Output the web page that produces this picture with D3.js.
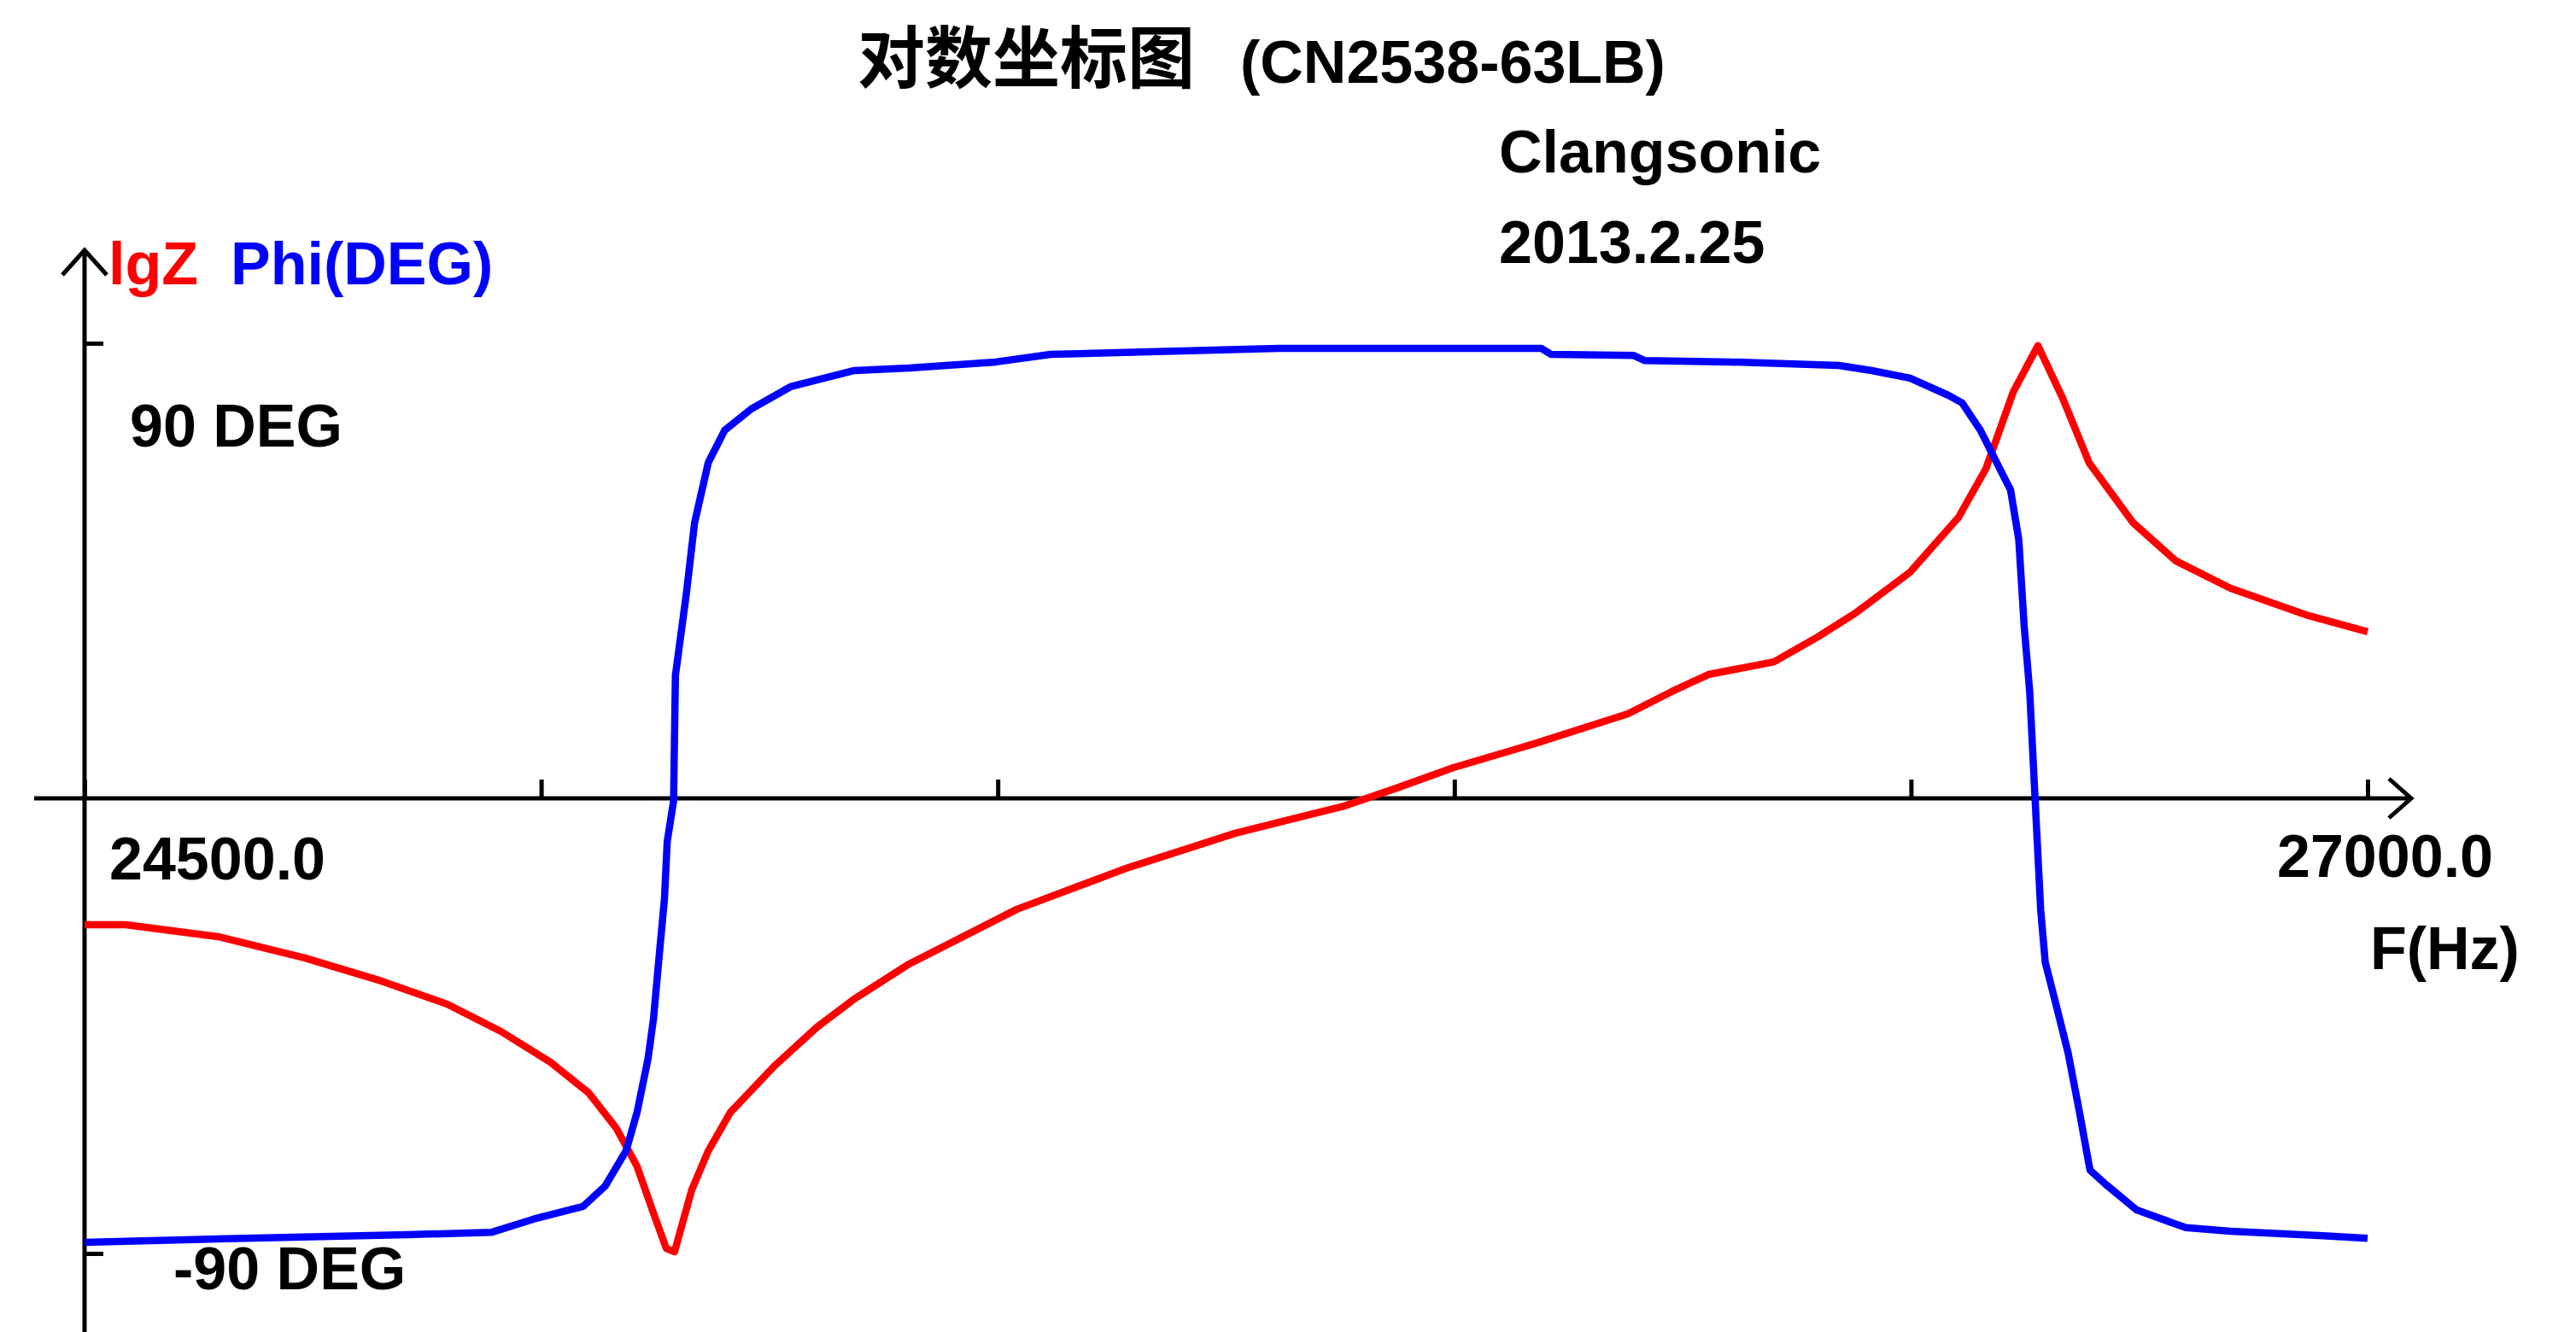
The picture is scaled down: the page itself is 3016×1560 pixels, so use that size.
<!DOCTYPE html>
<html>
<head>
<meta charset="utf-8">
<script src="https://cdn.jsdelivr.net/npm/d3@7"></script>
<style>
    body { margin: 0; background: #fff; }
    text { font-family: "Liberation Sans", Arial, sans-serif; font-weight: bold; }
</style>
</head>
<body>
<script>
// impedance / phase sweep, 24500 .. 27000 Hz
var X_TICKS = [24500, 25000, 25500, 26000, 26500, 27000];
var PHASE_TICKS = [-90, 90];

// blue: Phi(DEG)
var phiFreq = [24500, 24676, 24854, 24946, 24992, 25046, 25070, 25093, 25105, 25117,
               25123, 25129, 25135, 25138, 25145, 25147, 25159, 25168, 25183, 25201,
               25230, 25273, 25343, 25403, 25498, 25558, 25808, 26095, 26106, 26196,
               26208, 26302, 26421, 26457, 26499, 26541, 26556, 26576, 26600, 26609,
               26618, 26624, 26630, 26636, 26642, 26647, 26659, 26672, 26684, 26696,
               26713, 26747, 26801, 26850, 26951, 27000];
var phiDeg = [-87.8, -87.0, -86.3, -85.8, -83.2, -80.7, -76.7, -69.7, -62.1, -51.5,
              -43.6, -31.6, -19.9, -8.6, -0.5, 24.3, 40.5, 54.5, 66.4, 72.8,
              77.0, 81.4, 84.6, 85.1, 86.3, 87.8, 89.0, 89.0, 87.8, 87.6,
              86.6, 86.3, 85.6, 84.6, 83.1, 79.7, 78.2, 72.8, 64.2, 61.0,
              51.2, 33.9, 21.1, -0.5, -22.0, -32.4, -40.9, -50.3, -61.6, -73.5,
              -76.3, -81.4, -84.9, -85.6, -86.5, -87.0];

// red: lgZ
var lgzFreq = [24500, 24545, 24646, 24741, 24825, 24897, 24956, 25010, 25052, 25082,
               25105, 25123, 25137, 25146, 25165, 25183, 25207, 25255, 25302, 25343,
               25403, 25521, 25641, 25760, 25880, 25939, 25999, 26088, 26190, 26238,
               26278, 26350, 26398, 26439, 26499, 26552, 26582, 26612, 26639, 26666,
               26695, 26743, 26790, 26850, 26935, 27000];
var lgzVals = [2.087, 2.087, 2.048, 1.978, 1.902, 1.826, 1.736, 1.635, 1.534, 1.419,
               1.292, 1.138, 1.022, 1.011, 1.216, 1.343, 1.469, 1.621, 1.750, 1.843,
               1.958, 2.138, 2.273, 2.388, 2.478, 2.539, 2.604, 2.683, 2.781, 2.854,
               2.910, 2.952, 3.034, 3.112, 3.247, 3.427, 3.587, 3.840, 3.992, 3.820,
               3.607, 3.410, 3.284, 3.194, 3.104, 3.051];

var W = 3016;
var H = 1560;
var AXIS_W = 5;
var LINE_W = 8.5;

var x = d3.scaleLinear().domain([24500, 27000]).range([99, 2772]);
var yPhi = d3.scaleLinear().domain([-90, 90]).range([1468, 402]);
var yLgz = d3.scaleLinear().domain([1, 4]).range([1470, 402]);

var svg = d3.select("body")
    .append("svg")
    .attr("width", W)
    .attr("height", H);

// axes: x axis sits at phase 0
var x0 = x(24500);
var y0 = yPhi(0);

var axisG = svg.append("g")
    .attr("stroke", "#000")
    .attr("stroke-width", AXIS_W)
    .attr("fill", "none");

axisG.append("line")
    .attr("x1", 40).attr("y1", y0)
    .attr("x2", 2823).attr("y2", y0);
axisG.append("path")
    .attr("d", "M2797," + (y0 - 23) + "L2823," + y0 + "L2797," + (y0 + 23));

axisG.append("line")
    .attr("x1", x0).attr("y1", 293)
    .attr("x2", x0).attr("y2", H);
axisG.append("path")
    .attr("d", "M" + (x0 - 26) + ",322L" + x0 + ",293L" + (x0 + 26) + ",322");

// ticks up from the x axis
var xAxis = svg.append("g")
    .attr("transform", "translate(0," + y0 + ")")
    .call(d3.axisTop(x).tickValues(X_TICKS).tickSize(22).tickFormat(""));
xAxis.select(".domain").remove();
xAxis.selectAll("line").attr("stroke-width", AXIS_W);

var yAxis = svg.append("g")
    .attr("transform", "translate(" + x0 + ",0)")
    .call(d3.axisRight(yPhi).tickValues(PHASE_TICKS).tickSize(22).tickFormat(""));
yAxis.select(".domain").remove();
yAxis.selectAll("line").attr("stroke-width", AXIS_W);

// curves
var lgzLine = d3.line()
    .x(function(d, i) { return x(lgzFreq[i]); })
    .y(function(d) { return yLgz(d); });
var phiLine = d3.line()
    .x(function(d, i) { return x(phiFreq[i]); })
    .y(function(d) { return yPhi(d); });

svg.append("path")
    .datum(lgzVals)
    .attr("d", lgzLine)
    .attr("fill", "none")
    .attr("stroke", "#f00")
    .attr("stroke-width", LINE_W)
    .attr("stroke-linejoin", "round");

svg.append("path")
    .datum(phiDeg)
    .attr("d", phiLine)
    .attr("fill", "none")
    .attr("stroke", "#00f")
    .attr("stroke-width", LINE_W)
    .attr("stroke-linejoin", "round");

// texts
function label(txt, tx, ty, color) {
    return svg.append("text")
        .attr("x", tx)
        .attr("y", ty)
        .attr("font-size", 70)
        .attr("fill", color || "#000")
        .text(txt);
}

svg.append("text")
    .attr("x", 1004)
    .attr("y", 97)
    .attr("font-size", 79)
    .style("font-family", "'Noto Sans CJK SC', sans-serif")
    .text("对数坐标图");
label("(CN2538-63LB)", 1452, 97);
label("Clangsonic", 1755, 202);
label("2013.2.25", 1755, 308);

label("lgZ", 127, 333, "#f00");
label("Phi(DEG)", 270, 333, "#00f");

label("90 DEG", 152, 523);
label("-90 DEG", 203, 1510);
label(d3.format(".1f")(X_TICKS[0]), 128, 1030);
label(d3.format(".1f")(X_TICKS[X_TICKS.length - 1]), 2666, 1027);
label("F(Hz)", 2775, 1135);
</script>
</body>
</html>
